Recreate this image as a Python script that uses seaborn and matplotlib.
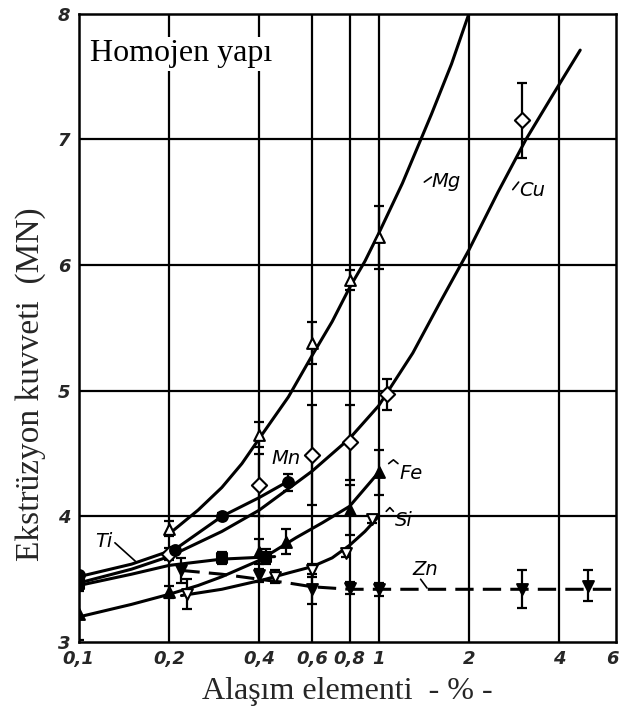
import numpy as np
import pandas as pd
import matplotlib
matplotlib.use("Agg")
import matplotlib.pyplot as plt
import seaborn as sns

# measured points (open / filled markers) and their error half-widths
mg_x = [0.2, 0.4, 0.6, 0.8, 1.0]
mg_y = [3.9, 4.65, 5.38, 5.88, 6.22]
mg_e = [0.06, 0.1, 0.17, 0.08, 0.25]

cu_x = [0.2, 0.4, 0.6, 0.8, 1.07, 3.0]
cu_y = [3.7, 4.25, 4.49, 4.59, 4.97, 7.15]
cu_e = [0.05, 0.25, 0.4, 0.3, 0.12, 0.3]

mn_x = [0.1, 0.21, 0.3, 0.5]
mn_y = [3.53, 3.73, 4.0, 4.27]
mn_e = [0.03, 0.03, 0.03, 0.07]

ti_x = [0.1, 0.3, 0.42]
ti_y = [3.46, 3.67, 3.68]
ti_e = [0.05, 0.05, 0.06]

fe_x = [0.1, 0.2, 0.4, 0.49, 0.8, 1.0]
fe_y = [3.22, 3.4, 3.72, 3.8, 4.05, 4.35]
fe_e = [0.2, 0.05, 0.1, 0.1, 0.2, 0.18]

si_x = [0.23, 0.45, 0.6, 0.78, 0.95]
si_y = [3.38, 3.52, 3.57, 3.71, 3.98]
si_e = [0.12, 0.05, 0.05, 0.03, 0.03]

zn_x = [0.22, 0.4, 0.6, 0.8, 1.0, 3.0, 5.0]
zn_y = [3.57, 3.53, 3.42, 3.43, 3.42, 3.42, 3.45]
zn_e = [0.1, 0.05, 0.12, 0.05, 0.05, 0.15, 0.12]

# fitted curves drawn through the points
mg_cx = [0.2, 0.25, 0.3, 0.35, 0.4, 0.5, 0.6, 0.7, 0.8, 0.9, 1.0, 1.2, 1.5, 1.75, 2.0]
mg_cy = [3.86, 4.05, 4.23, 4.42, 4.62, 4.95, 5.28, 5.55, 5.82, 6.03, 6.25, 6.65, 7.2, 7.6, 8.0]
cu_cx = [0.1, 0.15, 0.2, 0.3, 0.4, 0.5, 0.6, 0.8, 1.0, 1.3, 1.6, 2.0, 2.5, 3.1, 3.8, 4.7]
cu_cy = [3.47, 3.58, 3.68, 3.88, 4.05, 4.22, 4.36, 4.62, 4.88, 5.3, 5.7, 6.12, 6.58, 7.0, 7.35, 7.71]
mn_cx = [0.1, 0.15, 0.21, 0.3, 0.4, 0.5]
mn_cy = [3.52, 3.62, 3.74, 4.0, 4.15, 4.28]
ti_cx = [0.1, 0.15, 0.2, 0.3, 0.45]
ti_cy = [3.45, 3.54, 3.61, 3.66, 3.68]
fe_cx = [0.1, 0.15, 0.2, 0.25, 0.3, 0.4, 0.53, 0.65, 0.8, 1.0]
fe_cy = [3.2, 3.3, 3.38, 3.45, 3.52, 3.65, 3.83, 3.95, 4.08, 4.35]
si_cx = [0.22, 0.3, 0.42, 0.5, 0.6, 0.7, 0.8, 0.9, 1.0]
si_cy = [3.37, 3.42, 3.5, 3.55, 3.6, 3.67, 3.77, 3.88, 4.0]
zn_cx = [0.22, 0.3, 0.4, 0.5, 0.6, 0.8, 1.0, 6.0]
zn_cy = [3.57, 3.54, 3.5, 3.47, 3.44, 3.42, 3.42, 3.42]

x_ticks = [0.1, 0.2, 0.4, 0.6, 0.8, 1, 2, 4, 6]
x_labels = ["0,1", "0,2", "0,4", "0,6", "0,8", "1", "2", "4", "6"]
y_ticks = [3, 4, 5, 6, 7, 8]

sns.set_theme(style="white")
plt.rcParams["font.family"] = ["DejaVu Sans"]

fig = plt.figure(figsize=(6.2, 7.19), dpi=100)
ax = fig.add_axes([0.127, 0.107, 0.867, 0.874])
ax.set_xscale("log")
ax.set_xlim(0.1, 6.2)
ax.set_ylim(3, 8)

for xv in x_ticks[1:-1]:
    ax.axvline(xv, color="black", lw=1.6, zorder=1)
for yv in y_ticks[1:-1]:
    ax.axhline(yv, color="black", lw=1.6, zorder=1)

curves = [
    (mg_cx, mg_cy, "-"), (cu_cx, cu_cy, "-"), (mn_cx, mn_cy, "-"),
    (ti_cx, ti_cy, "-"), (fe_cx, fe_cy, "-"), (si_cx, si_cy, "-"),
    (zn_cx, zn_cy, (0, (6, 3))),
]
for cx, cy, ls in curves:
    d = pd.DataFrame({"x": cx, "y": cy})
    sns.lineplot(data=d, x="x", y="y", ax=ax, color="black", lw=2.2,
                 linestyle=ls, sort=False, zorder=3)

points = [
    (mg_x, mg_y, mg_e, "^", "white"),
    (cu_x, cu_y, cu_e, "D", "white"),
    (mn_x, mn_y, mn_e, "o", "black"),
    (ti_x, ti_y, ti_e, "s", "black"),
    (fe_x, fe_y, fe_e, "^", "black"),
    (si_x, si_y, si_e, "v", "white"),
    (zn_x, zn_y, zn_e, "v", "black"),
]
for px, py, pe, mk, fc in points:
    ax.errorbar(px, py, yerr=pe, fmt="none", ecolor="black", elinewidth=1.6,
                capsize=3.5, capthick=1.6, zorder=4)
    d = pd.DataFrame({"x": px, "y": py})
    sns.scatterplot(data=d, x="x", y="y", ax=ax, marker=mk, s=60,
                    facecolor=fc, edgecolor="black", linewidth=1.5, zorder=5)

lab = dict(fontsize=14, style="italic", color="black", zorder=6)
ax.text(1.5, 6.62, "Mg", **lab)
ax.plot([1.42, 1.5], [6.66, 6.7], color="black", lw=1.2)
ax.text(2.95, 6.55, "Cu", **lab)
ax.plot([2.8, 2.93], [6.6, 6.66], color="black", lw=1.2)
ax.text(0.44, 4.42, "Mn", **lab)
ax.text(1.17, 4.3, "Fe", **lab)
ax.plot([1.08, 1.12, 1.16], [4.42, 4.45, 4.42], color="black", lw=1.2)
ax.text(1.13, 3.92, "Si", **lab)
ax.plot([1.06, 1.09, 1.12], [4.04, 4.07, 4.04], color="black", lw=1.2)
ax.text(1.3, 3.53, "Zn", **lab)
ax.plot([1.38, 1.45], [3.5, 3.43], color="black", lw=1.2)
ax.text(0.113, 3.76, "Ti", **lab)
ax.plot([0.132, 0.155], [3.79, 3.64], color="black", lw=1.2)

ax.text(0.109, 7.62, "Homojen yapı", fontsize=23, family="Liberation Serif",
        color="black", zorder=6,
        bbox=dict(facecolor="white", edgecolor="none", pad=2))

ax.set_xticks(x_ticks)
ax.set_xticklabels(x_labels, fontsize=13, style="italic", weight="bold")
ax.xaxis.set_minor_locator(matplotlib.ticker.NullLocator())
ax.set_yticks(y_ticks)
ax.set_yticklabels([str(v) for v in y_ticks], fontsize=13, style="italic", weight="bold")
ax.tick_params(length=0, pad=6)

ax.set_xlabel("Alaşım elementi  - % -", fontsize=23, family="Liberation Serif", labelpad=6)
ax.set_ylabel("Ekstrüzyon kuvveti  (MN)", fontsize=24, family="Liberation Serif")
ax.yaxis.set_label_coords(-0.06, 0.41)

for sp in ax.spines.values():
    sp.set_color("black")
    sp.set_linewidth(1.8)

fig.savefig("out.png", dpi=100)
